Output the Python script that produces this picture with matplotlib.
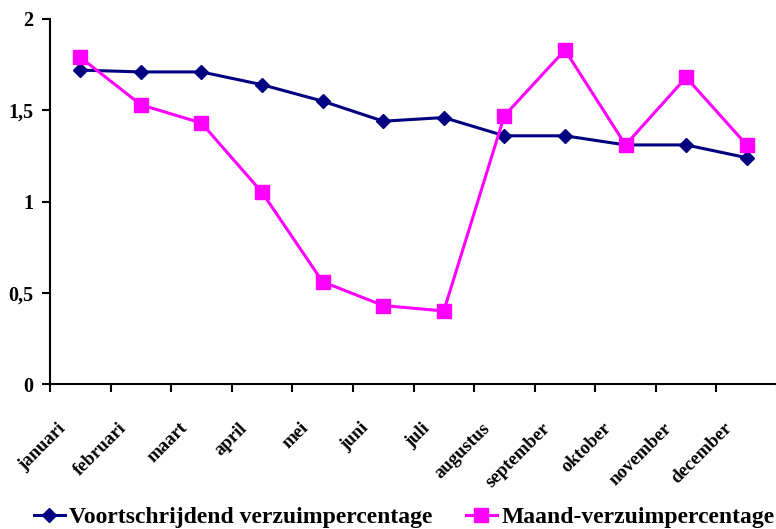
import matplotlib
matplotlib.use("Agg")
import matplotlib.pyplot as plt
import matplotlib.transforms as mtransforms
import numpy as np

months = ["januari", "februari", "maart", "april", "mei", "juni", "juli",
          "augustus", "september", "oktober", "november", "december"]
voortschrijdend = [1.72, 1.71, 1.71, 1.64, 1.55, 1.44, 1.46, 1.36, 1.36, 1.31, 1.31, 1.24]
maand = [1.79, 1.53, 1.43, 1.05, 0.56, 0.43, 0.40, 1.47, 1.83, 1.31, 1.68, 1.31]
y_ticks = [0, 0.5, 1, 1.5, 2]
y_tick_labels = ["0", "0,5", "1", "1,5", "2"]

plt.rcParams["font.family"] = ["Liberation Serif", "DejaVu Serif"]
plt.rcParams["font.weight"] = "bold"

fig = plt.figure(figsize=(7.76, 5.29), dpi=100)
ax = fig.add_axes([50 / 776, 1 - 384 / 529, 727 / 776, 365 / 529])

x = np.arange(len(months))
ax.plot(x, voortschrijdend, color="#000080", linewidth=2.2, marker="D",
        markersize=7, label="Voortschrijdend verzuimpercentage", clip_on=False)
ax.plot(x, maand, color="#FF00FF", linewidth=2.2, marker="s",
        markersize=9.5, label="Maand-verzuimpercentage", clip_on=False)

ax.set_xlim(-0.5, len(months) - 0.5)
ax.set_ylim(0, 2)

# category boundaries as major ticks, labels on the centers
ax.set_xticks(np.arange(-0.5, len(months), 1.0))
ax.set_xticklabels([])
ax.set_xticks(x, minor=True)
ax.set_xticklabels(months, minor=True, rotation=45, ha="right", va="center",
                   rotation_mode="anchor", fontsize=13.5, fontweight="bold")
ax.tick_params(axis="x", which="minor", length=0, pad=30)
shift = mtransforms.ScaledTranslation(-0.17, 0, fig.dpi_scale_trans)
for lab in ax.xaxis.get_minorticklabels():
    lab.set_transform(lab.get_transform() + shift)

ax.set_yticks(y_ticks)
ax.set_yticklabels(y_tick_labels, fontsize=14.5, fontweight="bold")
ax.tick_params(axis="both", which="major", direction="out", length=6,
               width=1.5, color="black")
ax.tick_params(axis="y", pad=6)

for side in ["top", "right"]:
    ax.spines[side].set_visible(False)
for side in ["left", "bottom"]:
    ax.spines[side].set_linewidth(1.5)

fig.legend(loc="center left", bbox_to_anchor=(34 / 776, 1 - 517 / 529),
           ncol=2, frameon=False, handlelength=1.3, handletextpad=0.2,
           columnspacing=1.4, borderaxespad=0, borderpad=0,
           prop={"weight": "bold", "size": 17})

fig.savefig("out.png", dpi=100)
